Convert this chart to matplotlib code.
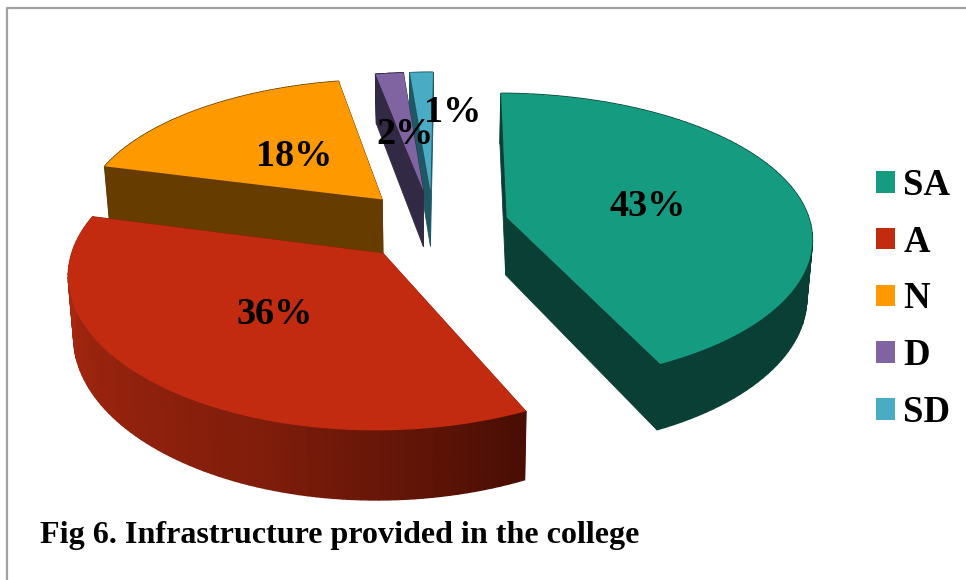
import numpy as np
import matplotlib
matplotlib.use('Agg')
import matplotlib.pyplot as plt
from matplotlib.patches import Patch
from matplotlib.colors import LinearSegmentedColormap, to_hex

categories = ['SA', 'A', 'N', 'D', 'SD']
values = [42.9, 36.0, 18.0, 1.7, 1.4]
top_colors = ['#149b80', '#c32b11', '#ff9900', '#8064a2', '#4aabc4']
side_colors = ['#0a3f35', '#8a1f0c', '#663c00', '#322a44', '#1f5764']
title = 'Fig 6. Infrastructure provided in the college'

plt.rcParams['font.family'] = ['Liberation Serif', 'DejaVu Serif']

# pie geometry in pixels
cx, cy = 433, 225
rx, ry = 304, 143.5
persp_x, persp_y = 0.125, 0.14
explode = 0.25
depth = 58
start = 0.5


def project(X, Y, drop=0.0):
    sx = cx + rx * X / (1 + persp_x * Y)
    sy = cy - ry * Y / (1 + persp_y * Y) + drop / (1 + persp_y * Y)
    if drop:
        sx = cx + (sx - cx) * 0.985
    return np.column_stack([sx, sy])


fig = plt.figure(figsize=(9.66, 5.8), dpi=100)
ax = fig.add_axes([0, 0, 1, 1])
ax.set_xlim(0, 966)
ax.set_ylim(580, 0)
ax.axis('off')

# outer frame
ax.plot([7, 7, 966], [580, 8, 8], color='#a0a0a0', lw=1.6)

fracs = np.array(values) / sum(values) * 360
ends = start + np.cumsum(fracs)
starts = ends - fracs
red_shade = LinearSegmentedColormap.from_list('red_side', ['#4a0e04', '#7f1d0b', '#9a240e', '#b32a10'])

# back slices first, the red one is nearest
for i in [4, 3, 2, 0, 1]:
    a = np.radians(np.linspace(starts[i], ends[i], 90))
    mid = np.radians((starts[i] + ends[i]) / 2)
    ox, oy = explode * np.sin(mid), explode * np.cos(mid)
    X = ox + np.sin(a)
    Y = oy + np.cos(a)
    apex_top = project(np.array([ox]), np.array([oy]))
    apex_low = project(np.array([ox]), np.array([oy]), depth)
    rim_top = project(X, Y)
    rim_low = project(X, Y, depth)
    # the two cut faces
    for j in [0, -1]:
        quad = np.vstack([apex_top, rim_top[j], rim_low[j], apex_low])
        ax.fill(quad[:, 0], quad[:, 1], fc=side_colors[i], ec=side_colors[i], lw=0.6)
    # outer wall in small strips
    for j in range(len(a) - 1):
        quad = np.vstack([rim_top[j], rim_top[j + 1], rim_low[j + 1], rim_low[j]])
        c = side_colors[i]
        if categories[i] == 'A':
            c = to_hex(red_shade(j / (len(a) - 2)))
        ax.fill(quad[:, 0], quad[:, 1], fc=c, ec=c, lw=1.0)
    face = np.vstack([apex_top, rim_top])
    ax.fill(face[:, 0], face[:, 1], color=top_colors[i], lw=0)

label_xy = [(648, 206), (275, 315), (294, 156), (405, 135), (453, 112)]
for v, (lx, ly) in zip(values, label_xy):
    ax.text(lx, ly, '%d%%' % round(v), ha='center', va='center', fontsize=27.5,
            fontweight='bold', color='black')

handles = [Patch(facecolor=c, label=n) for c, n in zip(top_colors, categories)]
ax.legend(handles=handles, loc='upper left', bbox_to_anchor=(876 / 966, 1 - 168 / 580),
          frameon=False, prop={'weight': 'bold', 'size': 26.5},
          handlelength=0.52, handleheight=0.52, handletextpad=0.22, labelspacing=0.59,
          borderpad=0, borderaxespad=0)

ax.text(40, 543, title, fontsize=23.1, fontweight='bold', color='black', ha='left', va='baseline')

fig.savefig('out.png', dpi=100)
